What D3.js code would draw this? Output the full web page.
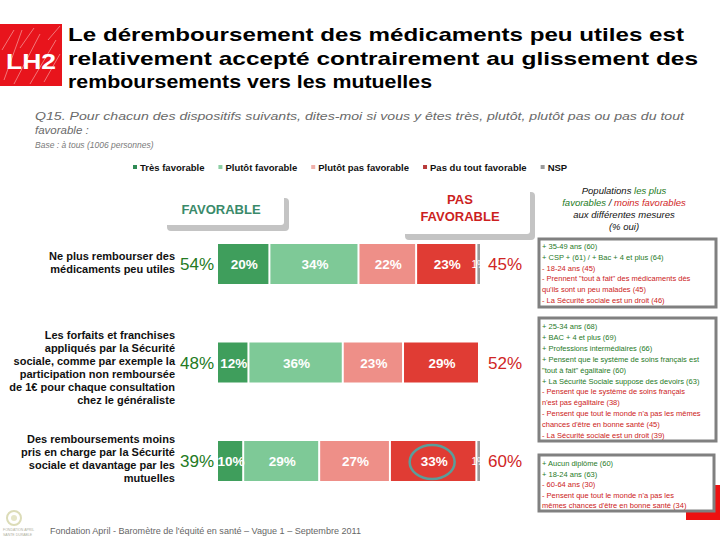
<!DOCTYPE html>
<html><head><meta charset="utf-8">
<script src="https://cdn.jsdelivr.net/npm/d3@7"></script>
<style>
body{margin:0;background:#fff;}
svg{display:block;font-family:"Liberation Sans",Arial,sans-serif;}
</style></head>
<body>
<svg id="c" width="720" height="540"></svg>
<script>
// ---- data ----
const categories = [
  ["Ne plus rembourser des","médicaments peu utiles"],
  ["Les forfaits et franchises","appliqués par la Sécurité","sociale, comme par exemple la","participation non remboursée","de 1€ pour chaque consultation","chez le généraliste"],
  ["Des remboursements moins","pris en charge par la Sécurité","sociale et davantage par les","mutuelles"]
];
const seriesNames = ["Très favorable","Plutôt favorable","Plutôt pas favorable","Pas du tout favorable","NSP"];
const tresFavorable = [20,12,10];
const plutotFavorable = [34,36,29];
const plutotPasFavorable = [22,23,27];
const pasDuToutFavorable = [23,29,33];
const nsp = [1,0,1];
const totalFavorable = [54,48,39];
const totalPasFavorable = [45,52,60];
const titleLines = ["Le déremboursement des médicaments peu utiles est","relativement accepté contrairement au glissement des","remboursements vers les mutuelles"];
const questionLines = ["Q15. Pour chacun des dispositifs suivants, dites-moi si vous y êtes très, plutôt, plutôt pas ou pas du tout","favorable :"];
const baseText = "Base : à tous (1006 personnes)";
const boxes = [
  [["+ 35-49 ans (60)","g"],["+ CSP + (61) / + Bac + 4 et plus (64)","g"],["- 18-24 ans (45)","r"],["- Prennent \"tout à fait\" des médicaments dès","r"],["qu'ils sont un peu malades (45)","r"],["- La Sécurité sociale est un droit (46)","r"]],
  [["+ 25-34 ans (68)","g"],["+ BAC + 4 et plus (69)","g"],["+ Professions intermédiaires (66)","g"],["+ Pensent que le système de soins français est","g"],["\"tout à fait\" égalitaire (60)","g"],["+ La Sécurité Sociale suppose des devoirs (63)","g"],["- Pensent que le système de soins français","r"],["n'est pas égalitaire (38)","r"],["- Pensent que tout le monde n'a pas les mêmes","r"],["chances d'être en bonne santé (45)","r"],["- La Sécurité sociale est un droit (39)","r"]],
  [["+ Aucun diplôme (60)","g"],["+ 18-24 ans (63)","g"],["- 60-64 ans (30)","r"],["- Pensent que tout le monde n'a pas les","r"],["mêmes chances d'être en bonne santé (34)","r"]]
];
const footerText = "Fondation April - Baromètre de l'équité en santé – Vague 1 – Septembre 2011";

// ---- styles ----
const colors = ["#3f9e5c","#7ec997","#ee8f88","#e03c34","#9a9a9a"];
const legendColors = ["#2f8a55","#8ccfa4","#f0b0aa","#b83a3a","#9a9a9a"];
const GREEN = "#237a23", RED = "#d02525";

const svg = d3.select("#c");

// logo
const logo = svg.append("g");
logo.append("rect").attr("x",0).attr("y",24).attr("width",62).attr("height",62).attr("fill","#e8141c");
[[4,80,22,30],[14,84,40,34],[30,84,56,40],[44,82,60,54],[2,50,14,30],[20,48,34,28],[48,40,60,26]].forEach(d=>{
  logo.append("line").attr("x1",d[0]).attr("y1",d[1]).attr("x2",d[2]).attr("y2",d[3]).attr("stroke","#f7a0a0").attr("stroke-width",1).attr("opacity",0.7);
});
logo.append("text").attr("x",31).attr("y",69).attr("text-anchor","middle").attr("fill","#fff")
  .attr("font-weight","bold").attr("font-size",22).attr("textLength",50).attr("lengthAdjust","spacingAndGlyphs").text("LH2");

// title
const titleW = [616,630,364];
titleLines.forEach((t,i)=>{
  svg.append("text").attr("x",68).attr("y",41+i*23.5).attr("font-size",19).attr("font-weight","bold").attr("fill","#000")
    .attr("textLength",titleW[i]).attr("lengthAdjust","spacingAndGlyphs").text(t);
});
// question
svg.append("text").attr("x",35).attr("y",120).attr("font-size",11.5).attr("font-style","italic").attr("fill","#6a6a6a")
  .attr("textLength",649).attr("lengthAdjust","spacingAndGlyphs").text(questionLines[0]);
svg.append("text").attr("x",35).attr("y",134).attr("font-size",11.5).attr("font-style","italic").attr("fill","#6a6a6a")
  .text(questionLines[1]);
svg.append("text").attr("x",35).attr("y",148).attr("font-size",8.5).attr("font-style","italic").attr("fill","#7a7a7a")
  .text(baseText);

// legend
const lg = svg.append("g").attr("font-size",9.5).attr("font-weight","bold").attr("fill","#111");
let lx = 133;
seriesNames.forEach((n,i)=>{
  lg.append("rect").attr("x",lx).attr("y",165).attr("width",4).attr("height",4).attr("fill",legendColors[i]);
  const t = lg.append("text").attr("x",lx+7).attr("y",170.5).text(n);
  lx += 7 + t.node().getComputedTextLength() + 14;
});

// header boxes
function shadowBox(x,y,w,h){
  svg.append("rect").attr("x",x+5).attr("y",y+6).attr("width",w).attr("height",h).attr("rx",4).attr("fill","#c4c4c4");
  svg.append("rect").attr("x",x).attr("y",y).attr("width",w).attr("height",h).attr("rx",3).attr("fill","#fff");
}
shadowBox(162,192,122,33);
svg.append("text").attr("x",221).attr("y",214).attr("text-anchor","middle").attr("font-size",13).attr("font-weight","bold")
  .attr("fill","#3a8a6a").text("FAVORABLE");
shadowBox(400,186,130,48);
svg.append("text").attr("x",460).attr("y",204).attr("text-anchor","middle").attr("font-size",13).attr("font-weight","bold")
  .attr("fill","#cc1f1f").text("PAS");
svg.append("text").attr("x",460).attr("y",221).attr("text-anchor","middle").attr("font-size",13).attr("font-weight","bold")
  .attr("fill","#cc1f1f").text("FAVORABLE");

// scales
const x = d3.scaleLinear().domain([0,100]).range([218,480]);
const y = d3.scalePoint().domain(d3.range(categories.length)).range([264,461]);
const barH = 40;

const rows = categories.map((c,i)=>({i, v:[tresFavorable[i],plutotFavorable[i],plutotPasFavorable[i],pasDuToutFavorable[i],nsp[i]]}));
const keys = [0,1,2,3,4];
const stack = d3.stack().keys(keys).value((d,k)=>d.v[k]);
const stacked = stack(rows);

const bars = svg.append("g");
stacked.forEach((layer,k)=>{
  layer.forEach((s,j)=>{
    if (s[1]-s[0] <= 0) return;
    bars.append("rect").attr("x",x(s[0])).attr("y",y(j)-barH/2)
      .attr("width",Math.max(0,x(s[1])-x(s[0])-(k<4?2:0))).attr("height",barH).attr("fill",colors[k]);
  });
});
// segment labels
stacked.forEach((layer,k)=>{
  layer.forEach((s,j)=>{
    const v = s[1]-s[0];
    if (v <= 0) return;
    if (k===4) {
      bars.append("text").attr("x",x(s[0])-6).attr("y",y(j)+4)
        .attr("font-size",10).attr("fill","#fff").text(v+"%");
      return;
    }
    const cx = (x(s[0])+x(s[1]))/2;
    bars.append("text").attr("x",cx).attr("y",y(j)+5)
      .attr("text-anchor","middle").attr("font-size",13.5).attr("fill","#fff")
      .attr("font-weight","bold").text(v+"%");
  });
});
// circle around last "pas du tout" value
const circ = stacked[3][2];
svg.append("ellipse").attr("cx",(x(circ[0])+x(circ[1]))/2-2).attr("cy",y(2)+1).attr("rx",22.5).attr("ry",17)
  .attr("fill","none").attr("stroke","#5a9e9a").attr("stroke-width",2.5);

// totals
totalFavorable.forEach((v,i)=>{
  svg.append("text").attr("x",180).attr("y",y(i)+6).attr("font-size",17).attr("fill",GREEN).text(v+"%");
});
totalPasFavorable.forEach((v,i)=>{
  svg.append("text").attr("x",488).attr("y",y(i)+6).attr("font-size",17).attr("fill",RED).text(v+"%");
});

// category labels
categories.forEach((lines,i)=>{
  const off = [-2,4.5,-3][i];
  const y0 = y(i) + off - (lines.length-1)*13/2 + 4;
  lines.forEach((l,k)=>{
    svg.append("text").attr("x",175).attr("y",y0+k*13).attr("text-anchor","end")
      .attr("font-size",11).attr("font-weight","bold").attr("fill","#111").text(l);
  });
});

// right heading
const rh = svg.append("text").attr("text-anchor","middle").attr("font-size",9.5).attr("font-style","italic").attr("fill","#111");
const t1 = rh.append("tspan").attr("x",624).attr("y",194);
t1.append("tspan").text("Populations ");
t1.append("tspan").attr("fill",GREEN).text("les plus");
const t2 = rh.append("tspan").attr("x",624).attr("y",206);
t2.append("tspan").attr("fill",GREEN).text("favorables");
t2.append("tspan").text(" / ");
t2.append("tspan").attr("fill",RED).text("moins favorables");
rh.append("tspan").attr("x",624).attr("y",218).text("aux différentes mesures");
rh.append("tspan").attr("x",624).attr("y",230).text("(% oui)");

// red accent behind last box
svg.append("rect").attr("x",686).attr("y",485).attr("width",34).attr("height",35).attr("fill","#ee1111");

// info boxes
const boxGeo = [[539,239,177,68,246,10.8],[539,318,177,123,326,10.9],[539,455,175,56,463,10.6]];
boxes.forEach((lines,b)=>{
  const [bx,by,bw,bh,ty,step] = boxGeo[b];
  svg.append("rect").attr("x",bx).attr("y",by).attr("width",bw).attr("height",bh).attr("fill","#fff")
    .attr("stroke","#808080").attr("stroke-width",3);
  lines.forEach((l,k)=>{
    const t = svg.append("text").attr("x",bx+3).attr("y",ty+3+k*step).attr("font-size",7.5)
      .attr("fill",l[1]==="g"?"#1f7a1f":"#cc2222").text(l[0]);
    const maxW = bw-7;
    if (t.node().getComputedTextLength() > maxW) t.attr("textLength",maxW).attr("lengthAdjust","spacingAndGlyphs");
  });
});

// footer
const fl = svg.append("g");
fl.append("circle").attr("cx",14).attr("cy",518).attr("r",7).attr("fill","none").attr("stroke","#dcdcb8").attr("stroke-width",2);
fl.append("circle").attr("cx",14).attr("cy",518).attr("r",3).attr("fill","#e6e6c8");
fl.append("text").attr("x",3).attr("y",531).attr("font-size",3.5).attr("fill","#b0b0a0").text("FONDATION APRIL");
fl.append("text").attr("x",3).attr("y",536).attr("font-size",3.5).attr("fill","#b0b0a0").text("SANTE DURABLE");
svg.append("text").attr("x",50).attr("y",534).attr("font-size",8.2).attr("fill","#666")
  .attr("textLength",311).attr("lengthAdjust","spacingAndGlyphs").text(footerText);
</script>
</body></html>
